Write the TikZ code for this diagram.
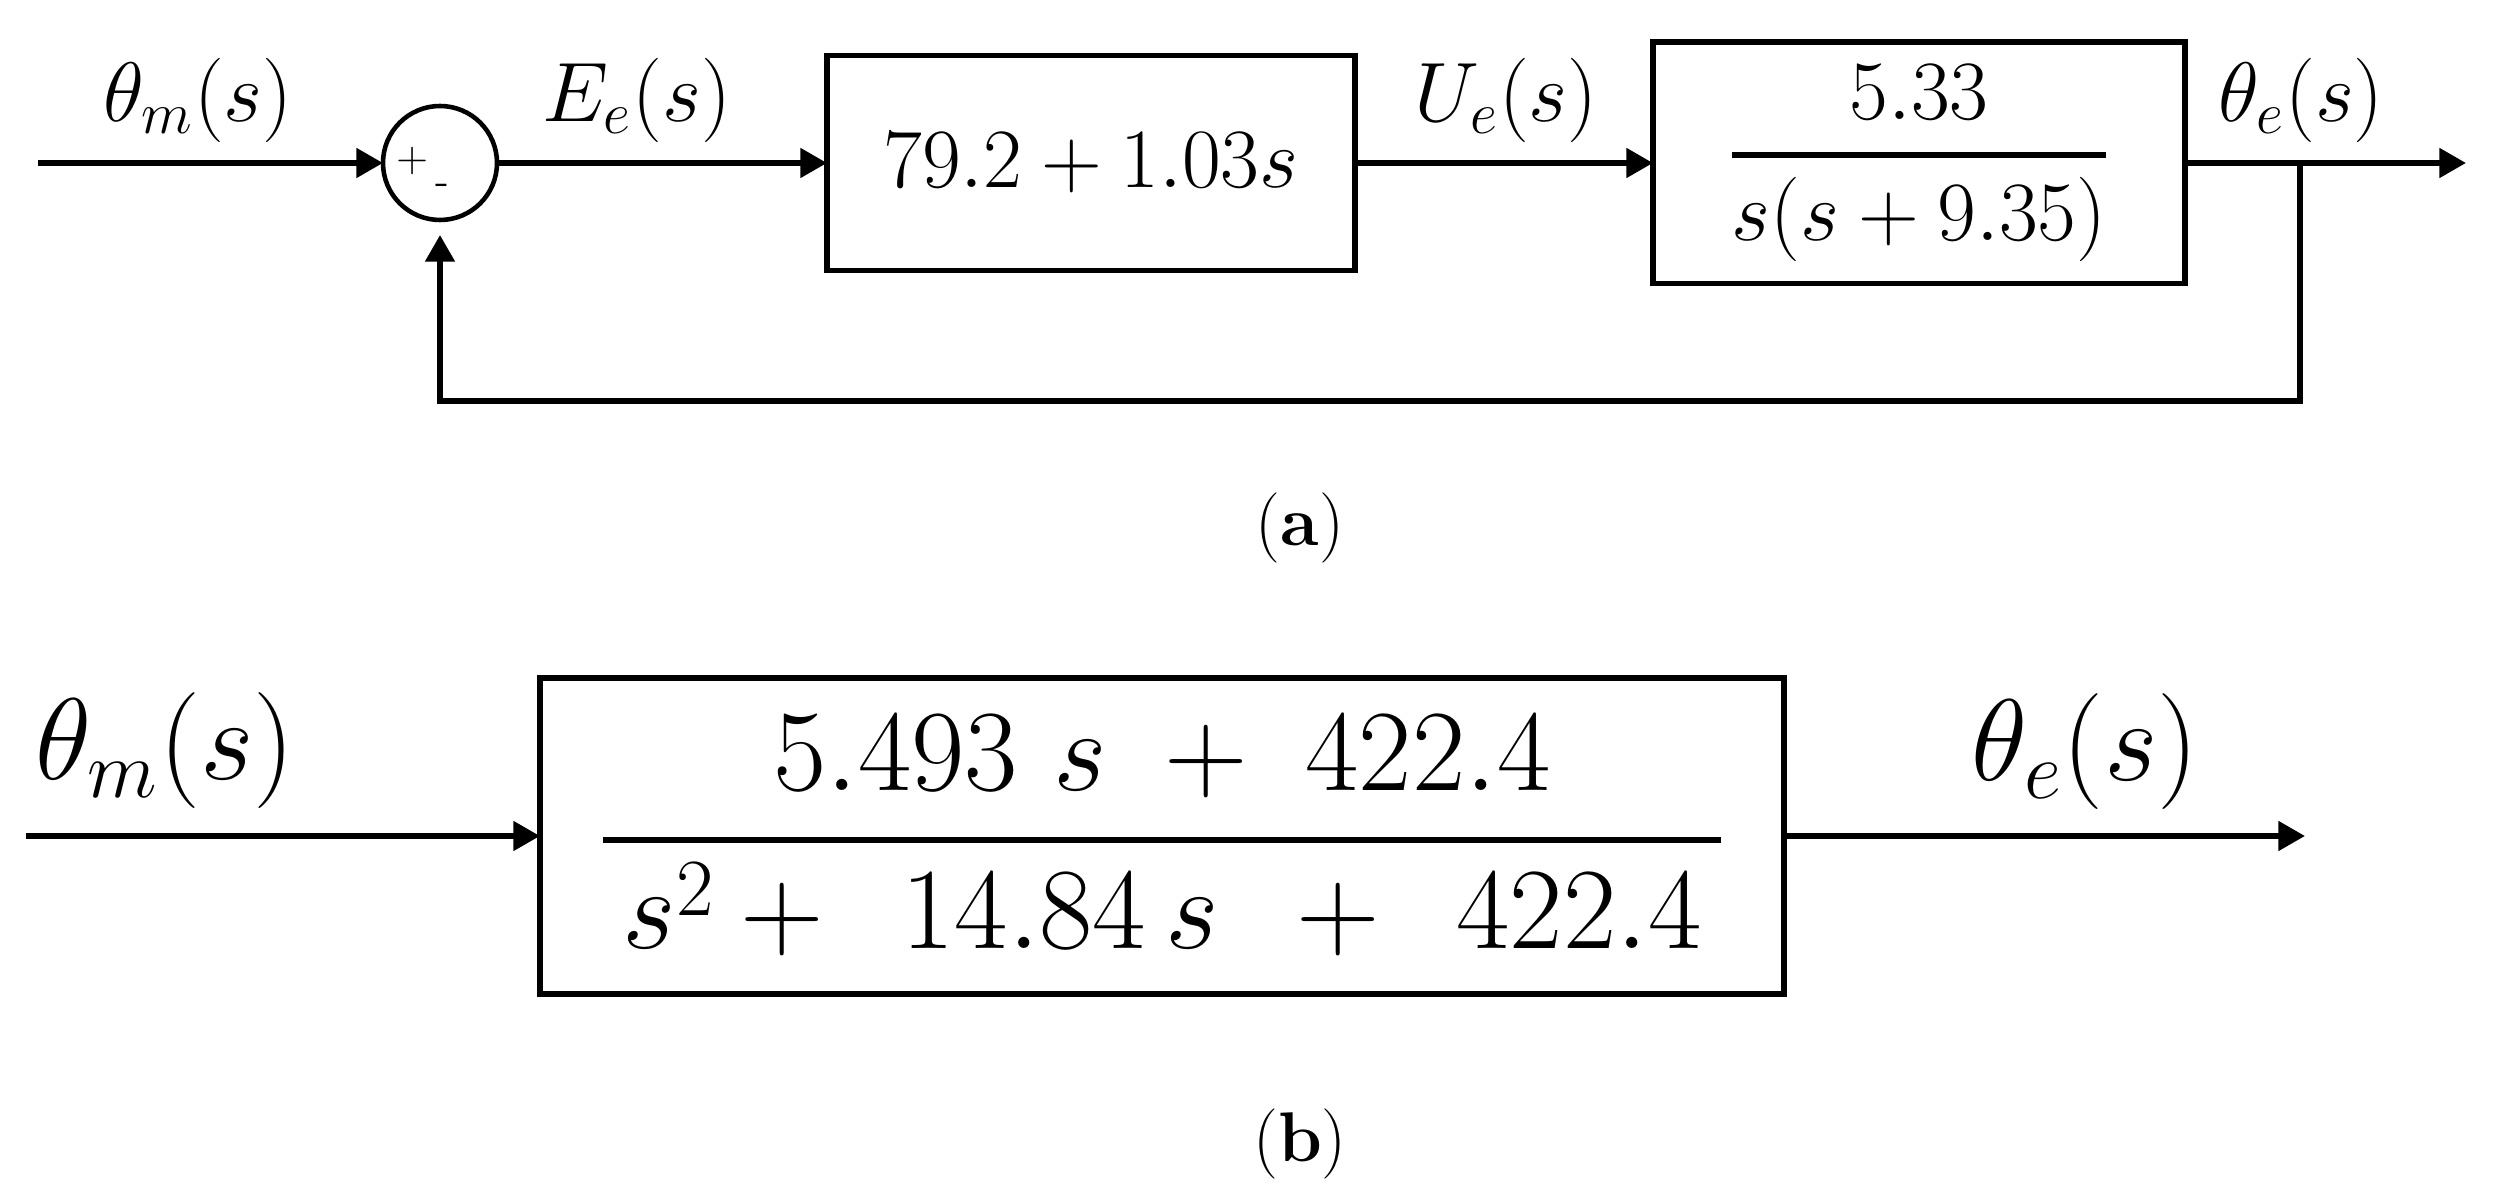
\RequirePackage{fix-cm}
\documentclass[tikz,border=0pt]{standalone}
\usepackage{amsmath}
\usepackage{amssymb}
\usepackage{tikz}
\usetikzlibrary{arrows.meta}
\tikzset{>={Triangle[width=8.2pt,length=7.6pt]}}
\newcommand{\tfbar}[2]{\genfrac{}{}{1.8pt}{0}{#1}{#2}}

\begin{document}
\begin{tikzpicture}[
    line width = 1.6pt,
    block/.style = {draw, line width=1.7pt, inner sep=0mm, outer sep=0mm},
    sumnode/.style = {draw, circle, line width=1.3pt, minimum size=1.14cm,
        inner sep=0mm, outer sep=0mm},
    sign/.style = {font=\fontsize{12}{12}\selectfont, inner sep=0mm},
    siga/.style = {font=\fontsize{24}{28}\selectfont},
    sigb/.style = {font=\fontsize{33}{38}\selectfont},
    capt/.style = {font=\fontsize{20}{24}\selectfont}
  ]
  \useasboundingbox (0,0) rectangle (24.99,11.92);

  % (a)
  \coordinate (INa) at (0.38,10.29);
  \node[sumnode] (SUM) at (4.40,10.29) {};
  \node[sign] (PLUS) at (4.13,10.31) {+};
  \node[sign] (MINUS) at (4.42,10.03) {-};
  \node[block, minimum width=5.28cm, minimum height=2.15cm, siga] (PID) at (10.91,10.29) {$79.2+1.03s$};
  \node[block, minimum width=5.32cm, minimum height=2.41cm, siga] (PLANT) at (19.19,10.29) {$\tfbar{5.33}{s(s+9.35)}$};
  \coordinate (OUTa) at (24.66,10.29);
  \coordinate (SPLIT) at (23.00,10.29);
  \coordinate (FB) at (23.00,7.91);

  \draw[->] (INa) -- (SUM);
  \draw[->] (SUM) -- (PID);
  \draw[->] (PID) -- (PLANT);
  \draw[->] (PLANT) -- (OUTa);
  \draw[->, shorten >=0.15cm] (SPLIT) -- (FB) -| (SUM);

  \node[siga] (THMa) at (1.98,10.92) {$\theta_m(s)$};
  \node[siga] (EE) at (6.37,10.92) {$E_e(s)$};
  \node[siga] (UE) at (15.06,10.92) {$U_e(s)$};
  \node[siga] (THEa) at (23.01,10.92) {$\theta_e(s)$};
  \node[capt] (CAPa) at (13.00,6.64) {(\textbf{a})};

  % (b)
  \coordinate (INb) at (0.26,3.56);
  \node[block, minimum width=12.44cm, minimum height=3.16cm, sigb] (CL) at (11.62,3.56)
    {$\tfbar{5.493\ s\;+\;422.4}{\,s^2+\;\,14.84\,s\;\,+\;\,422.4\,}$};
  \coordinate (OUTb) at (23.05,3.56);

  \draw[->] (INb) -- (CL);
  \draw[->] (CL) -- (OUTb);

  \node[sigb] (THMb) at (1.65,4.41) {$\theta_m(s)$};
  \node[sigb] (THEb) at (20.85,4.40) {$\theta_e(s)$};
  \node[capt] (CAPb) at (13.00,0.48) {(\textbf{b})};
\end{tikzpicture}
\end{document}
